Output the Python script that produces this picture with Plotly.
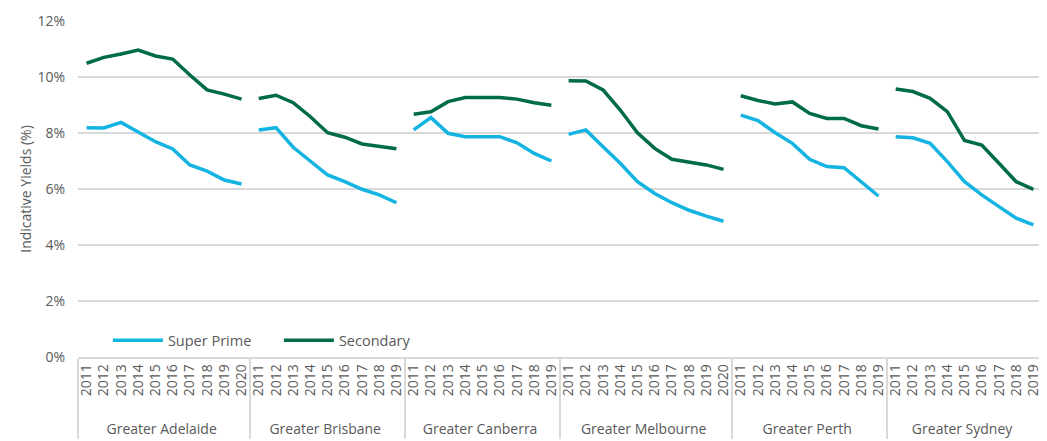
import plotly.graph_objects as go

regions = ["Greater Adelaide", "Greater Brisbane", "Greater Canberra",
           "Greater Melbourne", "Greater Perth", "Greater Sydney"]
years = {
    "Greater Adelaide": ["2011", "2012", "2013", "2014", "2015", "2016", "2017", "2018", "2019", "2020"],
    "Greater Brisbane": ["2011", "2012", "2013", "2014", "2015", "2016", "2017", "2018", "2019"],
    "Greater Canberra": ["2011", "2012", "2013", "2014", "2015", "2016", "2017", "2018", "2019"],
    "Greater Melbourne": ["2011", "2012", "2013", "2014", "2015", "2016", "2017", "2018", "2019", "2020"],
    "Greater Perth": ["2011", "2012", "2013", "2014", "2015", "2016", "2017", "2018", "2019"],
    "Greater Sydney": ["2011", "2012", "2013", "2014", "2015", "2016", "2017", "2018", "2019"],
}
super_prime = {
    "Greater Adelaide": [8.19, 8.18, 8.38, 8.05, 7.69, 7.43, 6.86, 6.64, 6.32, 6.18],
    "Greater Brisbane": [8.11, 8.19, 7.49, 7.00, 6.50, 6.26, 5.99, 5.79, 5.51],
    "Greater Canberra": [8.11, 8.55, 7.99, 7.87, 7.87, 7.87, 7.65, 7.27, 7.00],
    "Greater Melbourne": [7.95, 8.11, 7.51, 6.92, 6.26, 5.84, 5.51, 5.24, 5.03, 4.85],
    "Greater Perth": [8.64, 8.44, 8.01, 7.63, 7.06, 6.80, 6.76, 6.26, 5.75],
    "Greater Sydney": [7.87, 7.83, 7.63, 6.98, 6.26, 5.79, 5.37, 4.96, 4.72],
}
secondary = {
    "Greater Adelaide": [10.49, 10.70, 10.82, 10.96, 10.75, 10.64, 10.07, 9.54, 9.39, 9.21],
    "Greater Brisbane": [9.23, 9.35, 9.08, 8.58, 8.01, 7.85, 7.61, 7.51, 7.44],
    "Greater Canberra": [8.67, 8.76, 9.12, 9.27, 9.27, 9.27, 9.21, 9.08, 8.99],
    "Greater Melbourne": [9.87, 9.86, 9.54, 8.82, 8.01, 7.45, 7.06, 6.95, 6.86, 6.70],
    "Greater Perth": [9.33, 9.16, 9.04, 9.11, 8.70, 8.52, 8.52, 8.26, 8.14],
    "Greater Sydney": [9.57, 9.48, 9.24, 8.76, 7.73, 7.57, 6.92, 6.26, 5.99],
}
y_ticks = [0, 2, 4, 6, 8, 10, 12]
y_tick_labels = ["0%", "2%", "4%", "6%", "8%", "10%", "12%"]

SP_COLOR = "#14B4E2"
SEC_COLOR = "#006B47"
TEXT = "#595959"
GRID = "#D9D9D9"
PAD = "\u00a0\u00a0\u00a0"  # spacing between year labels and region labels

fig = go.Figure()
for i, r in enumerate(regions):
    x = [[r] * len(years[r]), [PAD + y for y in years[r]]]
    fig.add_trace(go.Scatter(x=x, y=super_prime[r], mode="lines", name="Super Prime",
                             line=dict(color=SP_COLOR, width=3.5), legendgroup="sp",
                             showlegend=(i == 0)))
for i, r in enumerate(regions):
    x = [[r] * len(years[r]), [PAD + y for y in years[r]]]
    fig.add_trace(go.Scatter(x=x, y=secondary[r], mode="lines", name="Secondary",
                             line=dict(color=SEC_COLOR, width=3.5), legendgroup="sec",
                             showlegend=(i == 0)))

n_cat = sum(len(years[r]) for r in regions)

fig.update_layout(
    width=1039, height=433,
    margin=dict(l=70, r=5, t=13, b=84),
    paper_bgcolor="white", plot_bgcolor="white",
    font=dict(family="Open Sans, sans-serif", color=TEXT, size=14),
    legend=dict(orientation="h", x=0.031, y=0.05, xanchor="left", yanchor="middle",
                bgcolor="rgba(0,0,0,0)", font=dict(size=14.5, color=TEXT),
                entrywidth=106, entrywidthmode="pixels", itemwidth=50),
    showlegend=True,
)
fig.update_xaxes(
    type="multicategory",
    range=[-0.5, n_cat - 0.5],
    automargin=False,
    tickangle=-90,
    tickfont=dict(size=14, color=TEXT),
    showline=True, linecolor=GRID, linewidth=1.5, mirror=False,
    showdividers=True, dividercolor=GRID, dividerwidth=1.5,
    ticks="", showgrid=False,
)
fig.update_yaxes(
    range=[0, 12], tickmode="array", tickvals=y_ticks, ticktext=y_tick_labels,
    automargin=False,
    showgrid=True, gridcolor=GRID, gridwidth=1.5,
    zeroline=False, ticks="", ticklabelstandoff=12,
    tickfont=dict(size=14, color=TEXT),
    title=dict(text="Indicative Yields (%)", font=dict(size=14, color=TEXT), standoff=2),
)

fig.write_html("out.html")
